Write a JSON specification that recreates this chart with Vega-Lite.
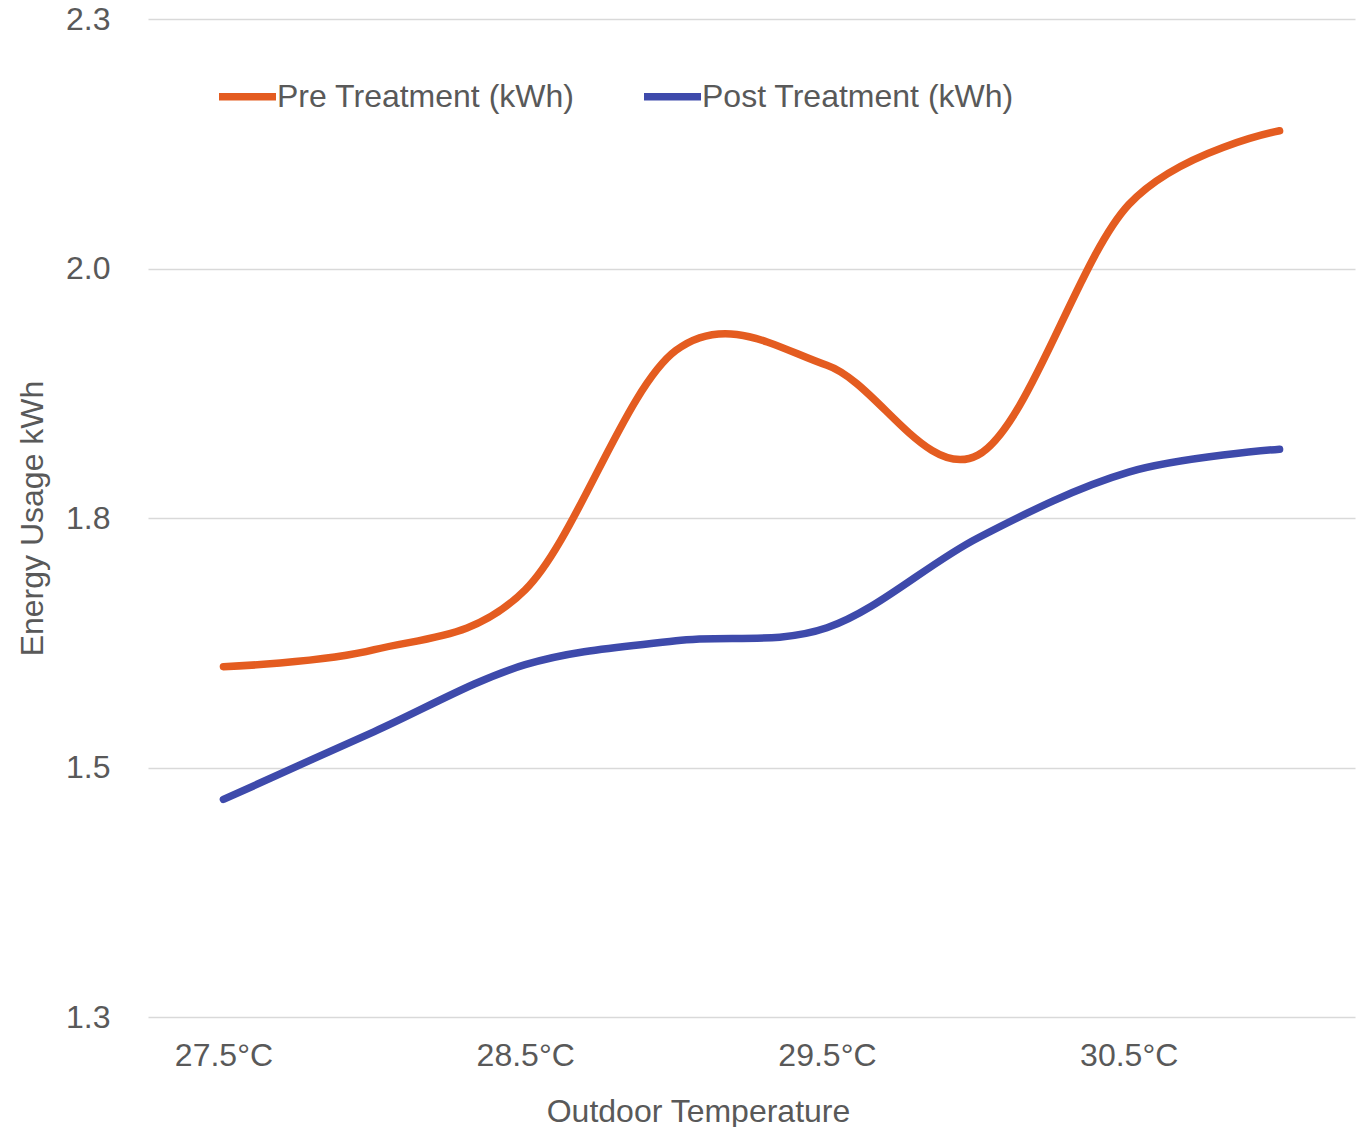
{
  "$schema": "https://vega.github.io/schema/vega-lite/v6.json",
  "width": 1207,
  "height": 998,
  "autosize": {"type": "none"},
  "padding": {"left": 148, "top": 19, "right": 9, "bottom": 110},
  "background": "white",
  "config": {
    "view": {"stroke": null},
    "font": "Liberation Sans",
    "axis": {"labelFont": "Liberation Sans", "titleFont": "Liberation Sans", "labelColor": "#595959", "titleColor": "#595959", "titleFontWeight": "normal"},
    "legend": {"labelFont": "Liberation Sans"}
  },
  "data": {
    "values": [
      {"t": 27.5, "series": "Pre Treatment (kWh)", "kWh": 1.651},
      {"t": 28.0, "series": "Pre Treatment (kWh)", "kWh": 1.668},
      {"t": 28.5, "series": "Pre Treatment (kWh)", "kWh": 1.728},
      {"t": 29.0, "series": "Pre Treatment (kWh)", "kWh": 1.968},
      {"t": 29.5, "series": "Pre Treatment (kWh)", "kWh": 1.953},
      {"t": 30.0, "series": "Pre Treatment (kWh)", "kWh": 1.863},
      {"t": 30.5, "series": "Pre Treatment (kWh)", "kWh": 2.114},
      {"t": 31.0, "series": "Pre Treatment (kWh)", "kWh": 2.188},
      {"t": 27.5, "series": "Post Treatment (kWh)", "kWh": 1.518},
      {"t": 28.0, "series": "Post Treatment (kWh)", "kWh": 1.586},
      {"t": 28.5, "series": "Post Treatment (kWh)", "kWh": 1.653},
      {"t": 29.0, "series": "Post Treatment (kWh)", "kWh": 1.677},
      {"t": 29.5, "series": "Post Treatment (kWh)", "kWh": 1.690},
      {"t": 30.0, "series": "Post Treatment (kWh)", "kWh": 1.780},
      {"t": 30.5, "series": "Post Treatment (kWh)", "kWh": 1.846},
      {"t": 31.0, "series": "Post Treatment (kWh)", "kWh": 1.869}
    ]
  },
  "mark": {"type": "line", "interpolate": "cardinal", "strokeWidth": 7.5, "strokeCap": "round", "strokeJoin": "round"},
  "encoding": {
    "x": {
      "field": "t",
      "type": "quantitative",
      "scale": {"domain": [27.25, 31.25], "nice": false, "zero": false},
      "axis": {
        "values": [27.5, 28.5, 29.5, 30.5],
        "labelExpr": "format(datum.value, '.1f') + '°C'",
        "labelFontSize": 32,
        "labelPadding": 23,
        "labelBaseline": "top",
        "ticks": false,
        "domain": false,
        "grid": false,
        "title": "Outdoor Temperature",
        "titleFontSize": 32,
        "titleX": 550,
        "titleY": 104,
        "titleAlign": "center",
        "titleBaseline": "alphabetic"
      }
    },
    "y": {
      "field": "kWh",
      "type": "quantitative",
      "scale": {"domain": [1.3, 2.3], "nice": false, "zero": false},
      "axis": {
        "values": [1.3, 1.55, 1.8, 2.05, 2.3],
        "labelExpr": "datum.value == 1.55 ? '1.5' : datum.value == 2.05 ? '2.0' : format(datum.value, '.1f')",
        "labelFontSize": 32,
        "labelPadding": 38,
        "labelBaseline": "middle",
        "ticks": false,
        "domain": false,
        "grid": true,
        "gridColor": "#D9D9D9",
        "gridWidth": 1.3,
        "title": "Energy Usage kWh",
        "titleFontSize": 32,
        "titleAngle": -90,
        "titleX": -106,
        "titleY": 499,
        "titleAlign": "center",
        "titleBaseline": "alphabetic"
      }
    },
    "color": {
      "field": "series",
      "type": "nominal",
      "sort": ["Pre Treatment (kWh)", "Post Treatment (kWh)"],
      "scale": {"domain": ["Pre Treatment (kWh)", "Post Treatment (kWh)"], "range": ["#E45C20", "#3E4AAB"]},
      "legend": {
        "title": null,
        "orient": "none",
        "legendX": 67,
        "legendY": 45,
        "direction": "horizontal",
        "symbolType": "stroke",
        "symbolSize": 3249,
        "symbolStrokeWidth": 7.5,
        "labelFontSize": 32,
        "labelColor": "#595959",
        "labelOffset": -3,
        "columnPadding": 54,
        "labelLimit": 500
      }
    }
  }
}
